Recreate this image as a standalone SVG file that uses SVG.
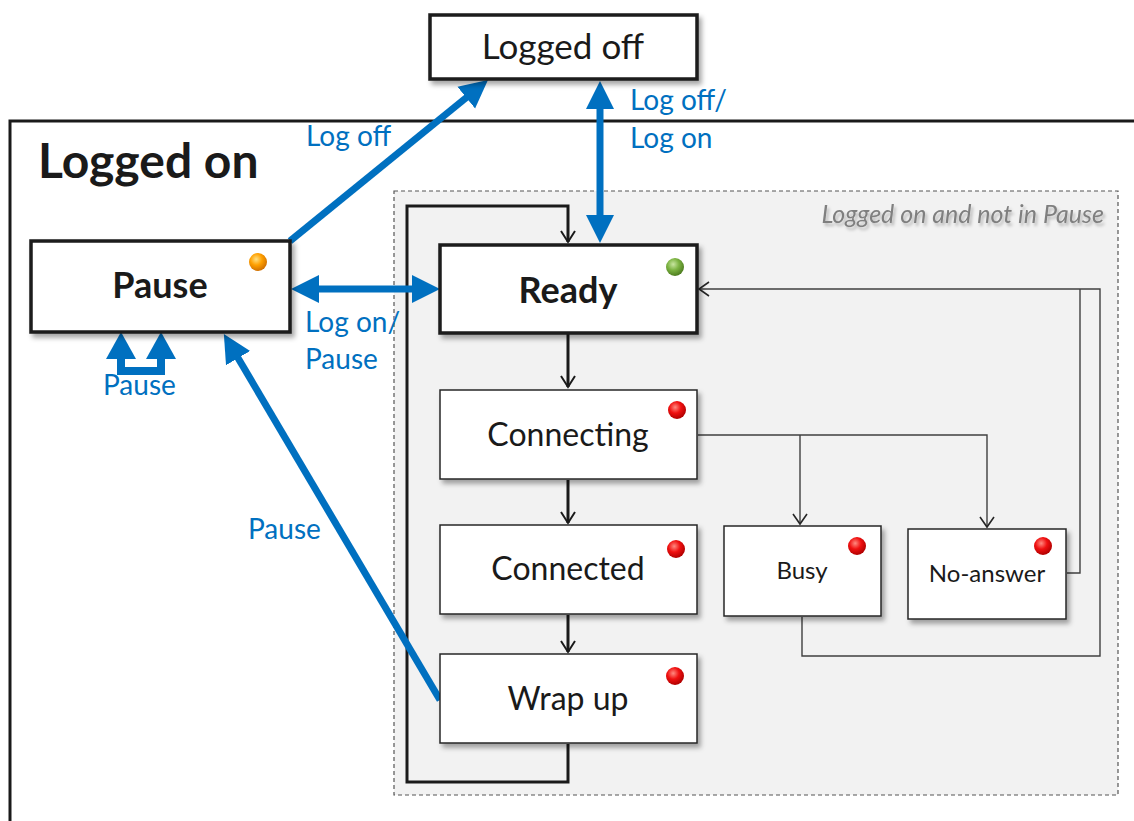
<svg xmlns="http://www.w3.org/2000/svg" width="1134" height="821" viewBox="0 0 1134 821">
  <defs>
    <style>
      text { font-family: Lato, "Open Sans", "Liberation Sans", sans-serif; fill: #1a1a1a; }
      .title { font-size: 48px; font-weight: bold; }
      .big { font-size: 36px; font-weight: bold; text-anchor: middle; }
      .mid { font-size: 32px; text-anchor: middle; }
      .small { font-size: 24px; text-anchor: middle; }
      .lbl { font-size: 28px; fill: #0070c0; }
      .note { font-size: 25px; font-style: italic; fill: #7f7f7f; text-anchor: end; }
      .boxT { fill: #fff; stroke: #1a1a1a; stroke-width: 3.5; }
      .box { fill: #fff; stroke: #262626; stroke-width: 1.5; }
      .blue { stroke: #0070c0; stroke-width: 7; fill: none; }
      .thin { stroke: #404040; stroke-width: 1.4; fill: none; }
      .thick { stroke: #1a1a1a; stroke-width: 3; fill: none; }
    </style>
    <filter id="shadow" x="-10%" y="-10%" width="130%" height="140%">
      <feDropShadow dx="3" dy="4" stdDeviation="2.5" flood-color="#000" flood-opacity="0.35"/>
    </filter>
    <filter id="txtShadow" x="-5%" y="-30%" width="110%" height="170%">
      <feDropShadow dx="2" dy="3" stdDeviation="1.5" flood-color="#000" flood-opacity="0.25"/>
    </filter>
    <radialGradient id="red" cx="40%" cy="35%" r="65%">
      <stop offset="0" stop-color="#ff8a80"/>
      <stop offset="0.5" stop-color="#f01010"/>
      <stop offset="1" stop-color="#b00000"/>
    </radialGradient>
    <radialGradient id="green" cx="40%" cy="35%" r="65%">
      <stop offset="0" stop-color="#c8e6a0"/>
      <stop offset="0.5" stop-color="#7cb342"/>
      <stop offset="1" stop-color="#4e7d20"/>
    </radialGradient>
    <radialGradient id="orange" cx="40%" cy="35%" r="65%">
      <stop offset="0" stop-color="#ffe082"/>
      <stop offset="0.5" stop-color="#ffa000"/>
      <stop offset="1" stop-color="#d07000"/>
    </radialGradient>
    <marker id="blueHead" viewBox="0 -15 30 30" refX="10" refY="0" markerWidth="30" markerHeight="30" markerUnits="userSpaceOnUse" orient="auto-start-reverse">
      <path d="M0,-14 L28,0 L0,14 z" fill="#0070c0"/>
    </marker>
    <marker id="vHead" viewBox="-12 -9 14 18" refX="0" refY="0" markerWidth="14" markerHeight="18" markerUnits="userSpaceOnUse" orient="auto">
      <path d="M-10,-7 L0,0 L-10,7" fill="none" stroke="#262626" stroke-width="1.6"/>
    </marker>
    <marker id="vHeadThick" viewBox="-13 -9 15 18" refX="0" refY="0" markerWidth="15" markerHeight="18" markerUnits="userSpaceOnUse" orient="auto">
      <path d="M-11,-7 L0,0 L-11,7" fill="none" stroke="#1a1a1a" stroke-width="2"/>
    </marker>
  </defs>

  <rect width="1134" height="821" fill="#fff"/>

  <!-- outer "Logged on" region -->
  <g id="logged-on">
    <rect x="10" y="121" width="1200" height="760" fill="none" stroke="#1a1a1a" stroke-width="3"/>
    <text class="title" x="38" y="178">Logged on</text>
  </g>

  <!-- inner dashed region -->
  <g id="not-in-pause">
    <rect x="394" y="191" width="724" height="604" fill="#f2f2f2" stroke="#555" stroke-width="1.2" stroke-dasharray="4,3"/>
    <text class="note" x="1104" y="223" filter="url(#txtShadow)">Logged on and not in Pause</text>
  </g>

  <!-- connectors -->
  <g id="connectors">
    <!-- black transitions -->
    <line class="thick" x1="568" y1="334" x2="568" y2="387" marker-end="url(#vHeadThick)"/>
    <line class="thick" x1="568" y1="480" x2="568" y2="523" marker-end="url(#vHeadThick)"/>
    <line class="thick" x1="568" y1="615" x2="568" y2="652" marker-end="url(#vHeadThick)"/>
    <path class="thick" d="M568,744 V782 H407 V206 H568 V242" marker-end="url(#vHeadThick)"/>
    <path class="thin" d="M698,435 H987 V527" marker-end="url(#vHead)"/>
    <path class="thin" d="M800,435 V524" marker-end="url(#vHead)"/>
    <path class="thin" d="M1067,573 H1080 V289"/>
    <path class="thin" d="M802,617 V656 H1100 V289 H699" marker-end="url(#vHead)"/>

    <!-- blue transitions -->
    <line class="blue" x1="290" y1="241" x2="474" y2="91.4" marker-end="url(#blueHead)"/>
    <line class="blue" x1="600" y1="99" x2="600" y2="225" marker-start="url(#blueHead)" marker-end="url(#blueHead)"/>
    <line class="blue" x1="309" y1="289" x2="422" y2="289" marker-start="url(#blueHead)" marker-end="url(#blueHead)"/>
    <line class="blue" x1="440" y1="700" x2="233" y2="349.5" marker-end="url(#blueHead)"/>
    <!-- Pause self transition -->
    <path d="M121,358 V371 H161 V358" stroke="#0070c0" stroke-width="8" fill="none"/>
    <polygon points="121,332 106,359 136,359" fill="#0070c0"/>
    <polygon points="161,332 146,359 176,359" fill="#0070c0"/>

    <!-- labels -->
    <text class="lbl" x="306" y="146">Log off</text>
    <text class="lbl" x="630" y="110">Log off/</text>
    <text class="lbl" x="630" y="148">Log on</text>
    <text class="lbl" x="305" y="332">Log on/</text>
    <text class="lbl" x="305" y="369">Pause</text>
    <text class="lbl" x="103" y="395">Pause</text>
    <text class="lbl" x="248" y="539">Pause</text>
  </g>

  <!-- states -->
  <g id="logged-off">
    <rect class="boxT" x="430" y="15" width="267" height="64" filter="url(#shadow)"/>
    <text class="mid" x="563" y="59" style="font-size:35px">Logged off</text>
  </g>

  <g id="pause">
    <rect class="boxT" x="31" y="241" width="259" height="91" filter="url(#shadow)"/>
    <text class="big" x="160" y="298">Pause</text>
    <circle cx="258" cy="262" r="9" fill="url(#orange)"/>
  </g>

  <g id="ready">
    <rect class="boxT" x="440" y="245" width="257" height="88" filter="url(#shadow)"/>
    <text class="big" x="568" y="303">Ready</text>
    <circle cx="675" cy="267" r="9" fill="url(#green)"/>
  </g>

  <g id="connecting">
    <rect class="box" x="440" y="390" width="257" height="89" filter="url(#shadow)"/>
    <text class="mid" x="568" y="446">Connecting</text>
    <circle cx="677" cy="410" r="9" fill="url(#red)"/>
  </g>

  <g id="connected">
    <rect class="box" x="440" y="525" width="257" height="89" filter="url(#shadow)"/>
    <text class="mid" x="568" y="580">Connected</text>
    <circle cx="676" cy="549" r="9" fill="url(#red)"/>
  </g>

  <g id="wrap-up">
    <rect class="box" x="440" y="654" width="257" height="89" filter="url(#shadow)"/>
    <text class="mid" x="568" y="710">Wrap up</text>
    <circle cx="675" cy="676" r="9" fill="url(#red)"/>
  </g>

  <g id="busy">
    <rect class="box" x="724" y="526" width="157" height="90" filter="url(#shadow)"/>
    <text class="small" x="802" y="579">Busy</text>
    <circle cx="857" cy="546" r="9" fill="url(#red)"/>
  </g>

  <g id="no-answer">
    <rect class="box" x="908" y="529" width="158" height="90" filter="url(#shadow)"/>
    <text class="small" x="987" y="582">No-answer</text>
    <circle cx="1043" cy="546" r="9" fill="url(#red)"/>
  </g>
</svg>
